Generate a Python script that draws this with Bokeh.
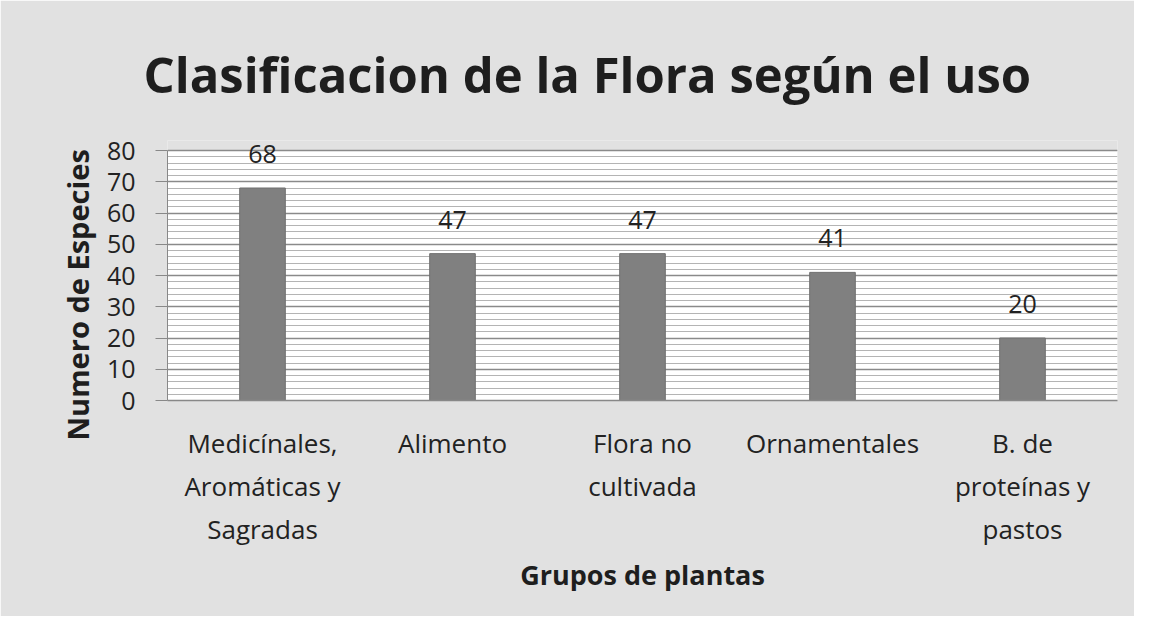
from bokeh.plotting import figure
from bokeh.models import FixedTicker, ColumnDataSource, LabelSet, BoxAnnotation, Title
from bokeh.core.properties import value
from bokeh.embed import file_html
from bokeh.resources import INLINE

categories = ["Medicínales,\nAromáticas y\nSagradas", "Alimento", "Flora no\ncultivada",
              "Ornamentales", "B. de\nproteínas y\npastos"]
values = [68, 47, 47, 41, 20]
labels = ["68", "47", "47", "41", "20"]
y_ticks = [0, 10, 20, 30, 40, 50, 60, 70, 80]
y_minor = list(range(0, 81, 2))
y_max = 80

FONT = "Open Sans"
BG = "#e1e1e1"

src = ColumnDataSource(dict(cat=categories, val=values, lab=labels))

p = figure(x_range=categories, y_range=(0, 83.2), width=1134, height=616,
           output_backend="svg", toolbar_location=None,
           min_border_left=167, min_border_right=17, min_border_top=140, min_border_bottom=216)

p.background_fill_color = BG
p.border_fill_color = BG
p.outline_line_color = None

# white plotting area from 0 to the axis maximum
p.add_layout(BoxAnnotation(bottom=0, top=y_max, fill_color="white", fill_alpha=1,
                           line_color=None, level="image"))

p.vbar(x="cat", top="val", width=0.24, source=src, fill_color="#808080",
       line_color="#6f6f6f", line_width=1)

p.add_layout(LabelSet(x="cat", y="val", text="lab", source=src, text_align="center",
                      text_baseline="bottom", y_offset=25, text_font=value(FONT),
                      text_font_size="25px", text_color="#222222"))

p.title.text = "Clasificacion de la Flora según el uso"
p.title.align = "left"
p.title.offset = -24
p.title.text_font = FONT
p.title.text_font_size = "49px"
p.title.text_font_style = "bold"
p.title.text_color = "#1e1e1e"
p.title.standoff = 68

p.yaxis.ticker = FixedTicker(ticks=y_ticks, minor_ticks=y_minor)
p.yaxis.bounds = (0, y_max)
p.ygrid.ticker = FixedTicker(ticks=y_ticks, minor_ticks=y_minor)
p.ygrid.grid_line_color = "#8a8a8a"
p.ygrid.grid_line_width = 1.5
p.ygrid.minor_grid_line_color = "#b4b4b4"
p.ygrid.minor_grid_line_width = 1
p.xgrid.grid_line_color = None

p.yaxis.major_tick_out = 12
p.yaxis.major_tick_in = 0
p.yaxis.minor_tick_out = 0
p.yaxis.minor_tick_in = 0
p.yaxis.axis_line_color = "#888888"
p.yaxis.major_tick_line_color = "#888888"
p.yaxis.major_label_text_font = FONT
p.yaxis.major_label_text_font_size = "25px"
p.yaxis.major_label_text_color = "#222222"
p.yaxis.major_label_standoff = 20

p.add_layout(Title(text="Numero de Especies", align="left", offset=-40, standoff=13,
                   text_font=FONT, text_font_size="29px", text_font_style="bold",
                   text_color="#1e1e1e"), "left")

p.xaxis.axis_line_color = "#888888"
p.xaxis.axis_line_width = 1.5
p.xaxis.major_tick_line_color = None
p.xaxis.minor_tick_line_color = None
p.xaxis.major_label_text_font = FONT
p.xaxis.major_label_text_font_size = "26px"
p.xaxis.major_label_text_color = "#222222"
p.xaxis.major_label_standoff = 18
p.xaxis.axis_label = "Grupos de plantas"
p.xaxis.axis_label_text_font = FONT
p.xaxis.axis_label_text_font_size = "27px"
p.xaxis.axis_label_text_font_style = "bold"
p.xaxis.axis_label_text_color = "#1e1e1e"
p.xaxis.axis_label_standoff = 6

open("out.html", "w").write(file_html(p, INLINE))
